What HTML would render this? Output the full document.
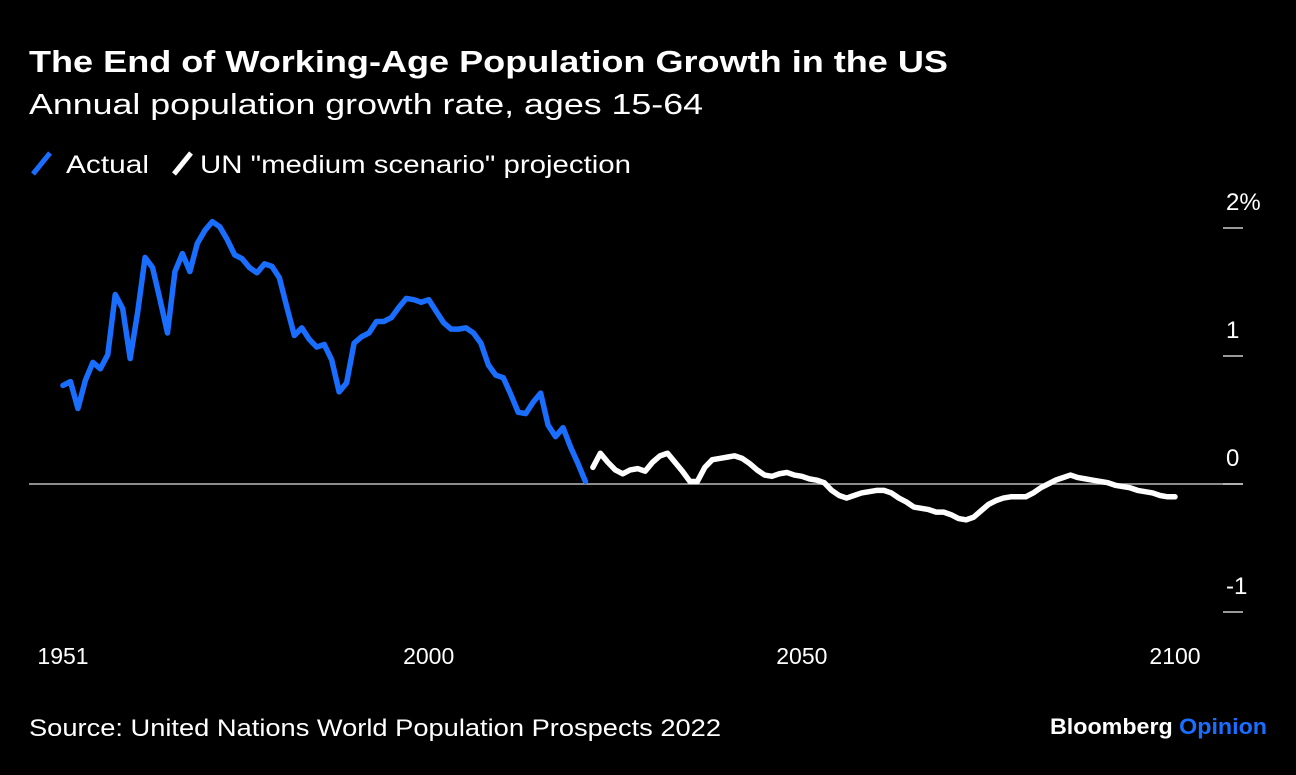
<!DOCTYPE html>
<html><head><meta charset="utf-8">
<style>
html,body{margin:0;padding:0;background:#000;}
body{width:1296px;height:770px;overflow:hidden;font-family:"Liberation Sans",Arial,sans-serif;color:#fff;}
svg text{font-family:"Liberation Sans",Arial,sans-serif;}
</style></head>
<body>
<svg id="chart" width="1296" height="770" xmlns="http://www.w3.org/2000/svg">
<rect width="1296" height="770" fill="#000"/>
<text x="29" y="72" font-size="31" font-weight="bold" fill="#fff" textLength="919" lengthAdjust="spacingAndGlyphs">The End of Working-Age Population Growth in the US</text>
<text x="29" y="114" font-size="29" fill="#fff" textLength="674" lengthAdjust="spacingAndGlyphs">Annual population growth rate, ages 15-64</text>
<g>
<line x1="33" y1="174" x2="50" y2="153" stroke="#1a6eff" stroke-width="5"/>
<text x="66" y="173" font-size="25" fill="#fff" textLength="83" lengthAdjust="spacingAndGlyphs">Actual</text>
<line x1="174" y1="174" x2="191" y2="153" stroke="#fff" stroke-width="5"/>
<text x="200" y="173" font-size="25" fill="#fff" textLength="431" lengthAdjust="spacingAndGlyphs">UN "medium scenario" projection</text>
</g>
<g id="axes"></g>
<g id="series"></g>
<text x="29" y="736" font-size="24" fill="#fff" textLength="692" lengthAdjust="spacingAndGlyphs">Source: United Nations World Population Prospects 2022</text>
<text x="1050" y="734" font-size="22" font-weight="bold" fill="#fff" textLength="217" lengthAdjust="spacingAndGlyphs">Bloomberg <tspan fill="#1a6eff">Opinion</tspan></text>
</svg>
<script>
const actualYears=[1951,1952,1953,1954,1955,1956,1957,1958,1959,1960,1961,1962,1963,1964,1965,1966,1967,1968,1969,1970,1971,1972,1973,1974,1975,1976,1977,1978,1979,1980,1981,1982,1983,1984,1985,1986,1987,1988,1989,1990,1991,1992,1993,1994,1995,1996,1997,1998,1999,2000,2001,2002,2003,2004,2005,2006,2007,2008,2009,2010,2011,2012,2013,2014,2015,2016,2017,2018,2019,2020,2021];
const actualValues=[0.77,0.80,0.59,0.81,0.95,0.90,1.01,1.48,1.37,0.98,1.34,1.77,1.69,1.44,1.18,1.66,1.80,1.66,1.88,1.98,2.05,2.01,1.91,1.79,1.76,1.69,1.65,1.72,1.70,1.61,1.38,1.16,1.22,1.13,1.07,1.09,0.97,0.72,0.79,1.10,1.15,1.18,1.27,1.27,1.30,1.38,1.45,1.44,1.42,1.44,1.35,1.26,1.21,1.21,1.22,1.18,1.10,0.93,0.85,0.83,0.70,0.56,0.55,0.64,0.71,0.46,0.37,0.44,0.29,0.16,0.02];
const projStartYear=2022;
const projValues=[0.13,0.24,0.17,0.11,0.08,0.11,0.12,0.10,0.17,0.22,0.24,0.17,0.10,0.02,0.02,0.13,0.19,0.20,0.21,0.22,0.20,0.16,0.11,0.07,0.06,0.08,0.09,0.07,0.06,0.04,0.03,0.01,-0.05,-0.09,-0.11,-0.09,-0.07,-0.06,-0.05,-0.05,-0.07,-0.11,-0.14,-0.18,-0.19,-0.20,-0.22,-0.22,-0.24,-0.27,-0.28,-0.26,-0.21,-0.16,-0.13,-0.11,-0.10,-0.10,-0.10,-0.07,-0.03,0.00,0.03,0.05,0.07,0.05,0.04,0.03,0.02,0.01,-0.01,-0.02,-0.03,-0.05,-0.06,-0.07,-0.09,-0.10,-0.10];
const xTicks=[1951,2000,2050,2100];
const yTicks=[2,1,0,-1];
const yTickLabels=["2%","1","0","-1"];

const NS="http://www.w3.org/2000/svg";
const xs=y=>63+(y-1951)*(1175-63)/149;
const ys=v=>484-v*128;
const axes=document.getElementById('axes');
const series=document.getElementById('series');
function mk(tag,attrs,parent){const e=document.createElementNS(NS,tag);for(const k in attrs)e.setAttribute(k,attrs[k]);parent.appendChild(e);return e;}

const zl=mk('line',{x1:29,x2:1243,y1:ys(0),y2:ys(0),stroke:'#bbb','stroke-width':1.5},axes);


yTicks.forEach((t,i)=>{
  const tk=mk('line',{x1:1223,x2:1243,y1:ys(t),y2:ys(t),stroke:'#ccc','stroke-width':1.5},axes);
  
  
  const lb=mk('text',{x:1226,y:ys(t)-18,'font-size':24,fill:'#fff'},axes);
  lb.textContent=yTickLabels[i];
  
  
});
xTicks.forEach(t=>{
  const lb=mk('text',{x:xs(t),y:664,'font-size':23,fill:'#fff','text-anchor':'middle'},axes);
  lb.textContent=String(t);
  
  
});
const pa=mk('polyline',{points:actualYears.map((y,i)=>xs(y)+','+ys(actualValues[i])).join(' '),fill:'none',stroke:'#1a6eff','stroke-width':5.5,'stroke-linejoin':'round','stroke-linecap':'round'},series);


const pp=mk('polyline',{points:projValues.map((v,i)=>xs(projStartYear+i)+','+ys(v)).join(' '),fill:'none',stroke:'#fff','stroke-width':5.5,'stroke-linejoin':'round','stroke-linecap':'round'},series);


</script>
</body></html>
